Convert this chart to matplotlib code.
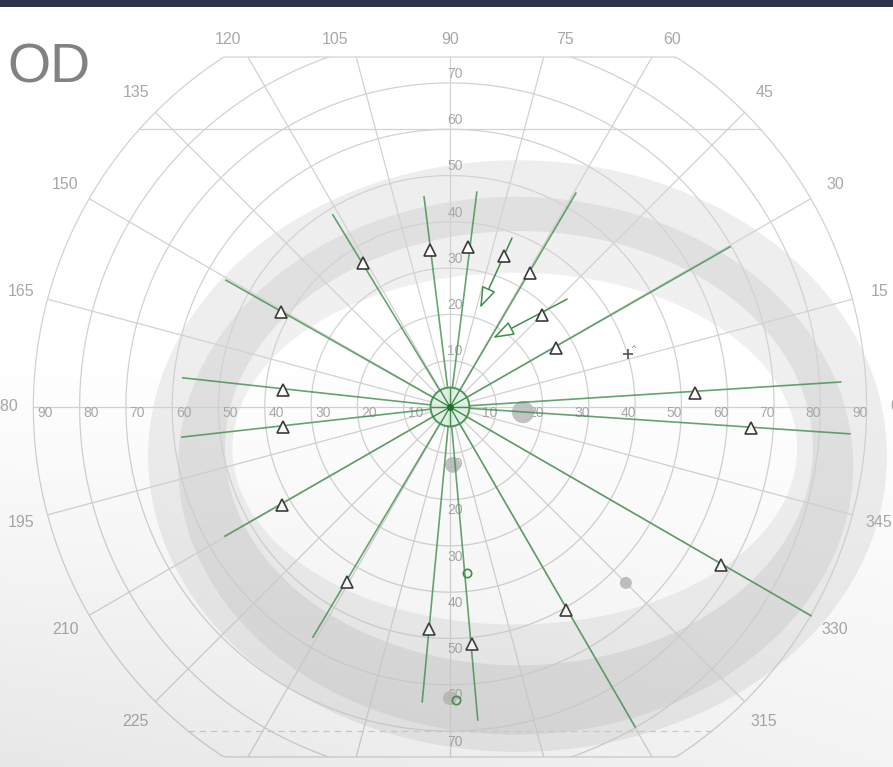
import numpy as np
import matplotlib.pyplot as plt
from matplotlib.patches import Ellipse, Polygon, Rectangle, Circle

plt.rcParams['font.family'] = ['Liberation Sans', 'DejaVu Sans']

# isopter bands (ellipses in degrees): outer light, dark, inner light, inside
iso_cx = [14.6, 14.2, 14.9, 14.0]
iso_cy = [-10.6, -12.7, -8.9, -9.0]
iso_ax = [79.8, 72.9, 63.5, 61.0]
iso_ay = [63.9, 58.1, 46.9, 38.0]
iso_col = ['#eeeeee', '#e0e0e0', '#f0f0f0', '#ffffff']

# kinetic vectors: outer end -> inner end, triangle = seen point
vec_x0 = [-48.4, -25.3, -5.6, 5.8, 13.4, 27.2, 25.3, 60.5, 84.4, 86.4, 78.0, 40.0, 6.0, -6.0, -29.6, -48.6, -57.9, -57.7]
vec_y0 = [27.4, 41.5, 45.4, 46.4, 36.5, 46.2, 23.3, 34.6, 5.4, -5.8, -45.1, -69.1, -67.6, -63.7, -49.7, -27.9, -6.5, 6.3]
vec_x1 = [0, 0, 0, 0, 6.5, 0, 9.3, 0, 0, 0, 0, 0, 0, 0, 0, 0, 0, 0]
vec_y1 = [0, 0, 0, 0, 21.4, 0, 14.9, 0, 0, 0, 0, 0, 0, 0, 0, 0, 0, 0]
vec_arrow = [0, 0, 0, 0, 1, 0, 1, 0, 0, 0, 0, 0, 0, 0, 0, 0, 0, 0]
tri_x = [-36.5, -18.8, -4.3, 3.9, 11.7, 17.3, 19.9, 22.9, 52.9, 65.0, 58.5, 25.1, 4.8, -4.5, -22.2, -36.3, -36.1, -36.1]
tri_y = [20.5, 31.1, 33.9, 34.6, 32.6, 28.9, 19.9, 12.7, 3.0, -4.5, -34.1, -43.8, -51.2, -47.9, -37.8, -21.2, -4.3, 3.7]

# scotoma dots (grey) and small green rings
dot_x = [15.8, 0.6, 38.0, 0.0]
dot_y = [-1.1, -12.5, -38.0, -62.9]
dot_r = [2.4, 1.7, 1.3, 1.5]
ring_pt_x = [3.7, 1.3]
ring_pt_y = [-35.9, -63.3]
plus_x, plus_y = 38.4, 11.4

rings = [10, 20, 30, 40, 50, 60, 70, 80, 90]
meridians = list(range(0, 360, 15))
top_lim = 75.6

grid_c = '#d2d2d2'
txt_c = '#a8a8a8'
green = '#3f8f4c'

fig = plt.figure(figsize=(8.93, 7.67), dpi=100)
ax = fig.add_axes([0, 0, 1, 1])
ax.set_xlim(-97.2, 95.7)
ax.set_ylim(-77.75, 87.9)
ax.set_aspect('equal')
ax.axis('off')

# frame: 90 deg circle cut at top and bottom
t = np.linspace(0, 2 * np.pi, 721)
fx = 90 * np.cos(t)
fy = np.clip(90 * np.sin(t), -top_lim, top_lim)
frame = Polygon(np.column_stack([fx, fy]), closed=True, fc='none', ec=grid_c, lw=0.9, zorder=3)
ax.add_patch(frame)

for cx, cy, a, b, c in zip(iso_cx, iso_cy, iso_ax, iso_ay, iso_col):
    ax.add_patch(Ellipse((cx, cy), 2 * a, 2 * b, fc=c, ec='none', zorder=2))

for r in rings[:-1]:
    ln, = ax.plot(r * np.cos(t), r * np.sin(t), color=grid_c, lw=0.9, zorder=3)
    ln.set_clip_path(frame)
for m in meridians:
    a = np.radians(m)
    ln, = ax.plot([0, 90 * np.cos(a)], [0, 90 * np.sin(a)], color=grid_c, lw=0.9, zorder=3)
    ln.set_clip_path(frame)
ax.plot([-np.sqrt(90**2 - 60**2), np.sqrt(90**2 - 60**2)], [60, 60], color=grid_c, lw=0.9, zorder=3)
ax.plot([-np.sqrt(90**2 - 70**2), np.sqrt(90**2 - 70**2)], [-70, -70], color=grid_c, lw=0.9, ls=(0, (5, 4)), zorder=3)

# meridian labels
for m in meridians:
    a = np.radians(m)
    x, y = 96 * np.cos(a), 96 * np.sin(a)
    if y > 79.3:
        y = 79.3
    if y < -70:
        continue
    ax.text(x, y, str(m), color=txt_c, fontsize=11.5, ha='center', va='center', zorder=4)

# ring labels
for r in rings:
    ax.text(-(r - 2.5), -1.3, str(r), color=txt_c, fontsize=10, ha='center', va='center', zorder=4)
    ax.text(r - 1.5, -1.3, str(r), color=txt_c, fontsize=10, ha='center', va='center', zorder=4)
    if r <= 70:
        ax.text(1.1, r + 2, str(r), color=txt_c, fontsize=10, ha='center', va='center', zorder=4)
        ax.text(1.1, -(r + 2.3), str(r), color=txt_c, fontsize=10, ha='center', va='center', zorder=4)

# grey dots
for x, y, r in zip(dot_x, dot_y, dot_r):
    ax.add_patch(Circle((x, y), r, fc='#bdbdbd', ec='none', alpha=0.9, zorder=5))

# vectors
for x0, y0, x1, y1, arr in zip(vec_x0, vec_y0, vec_x1, vec_y1, vec_arrow):
    if arr:
        ax.annotate('', xy=(x1, y1), xytext=(x0, y0),
                    arrowprops=dict(arrowstyle='-|>,head_length=1.3,head_width=0.45',
                                    fc='white', ec=green, lw=1.1, shrinkA=0, shrinkB=0),
                    zorder=6)
    else:
        ax.plot([x0, x1], [y0, y1], color=green, lw=1.2, alpha=0.8, zorder=6)
ax.plot(tri_x, tri_y, ls='none', marker='^', ms=8.5, mfc='white', mec='#3a3a3a', mew=1.2, zorder=7)
ax.plot(ring_pt_x, ring_pt_y, ls='none', marker='o', ms=6, mfc='none', mec=green, mew=1.2, zorder=7)
ax.plot(plus_x, plus_y, marker='+', ms=7, color='#555555', mew=1.2, zorder=7)
ax.text(plus_x + 1.0, plus_y + 1.0, '^', fontsize=6, color='#555555', zorder=7)

# fixation target
ax.add_patch(Circle((0, 0), 4.2, fc='#e3f2e5', ec=green, lw=1.4, alpha=0.9, zorder=8))
for k in range(12):
    a = np.radians(k * 30)
    ax.plot([0, 4.2 * np.cos(a)], [0, 4.2 * np.sin(a)], color=green, lw=1, zorder=8)
ax.plot(0, 0, marker='o', ms=4, color='#1f6e2a', zorder=9)

ax.text(-95.5, 70.2, 'OD', fontsize=40, color='#828282', ha='left', va='baseline', zorder=9)

# video-like gradient overlay and top bar
ov = fig.add_axes([0, 0, 1, 1], zorder=10)
ov.axis('off')
yy, xx = np.mgrid[0:1:200j, 0:1:200j]
alpha = 0.17 * np.clip((yy - 0.45) / 0.55, 0, 1) ** 1.2 * (1 - 0.5 * xx)
img = np.zeros((200, 200, 4))
img[..., :3] = 0.45
img[..., 3] = alpha
ov.imshow(img, extent=[0, 1, 0, 1], origin='upper', aspect='auto')
ov.set_xlim(0, 1)
ov.set_ylim(0, 1)
ov.add_patch(Rectangle((0, 1 - 7 / 767), 1, 7 / 767, fc='#2e3548', ec='none'))

fig.savefig('out.png', dpi=100)
